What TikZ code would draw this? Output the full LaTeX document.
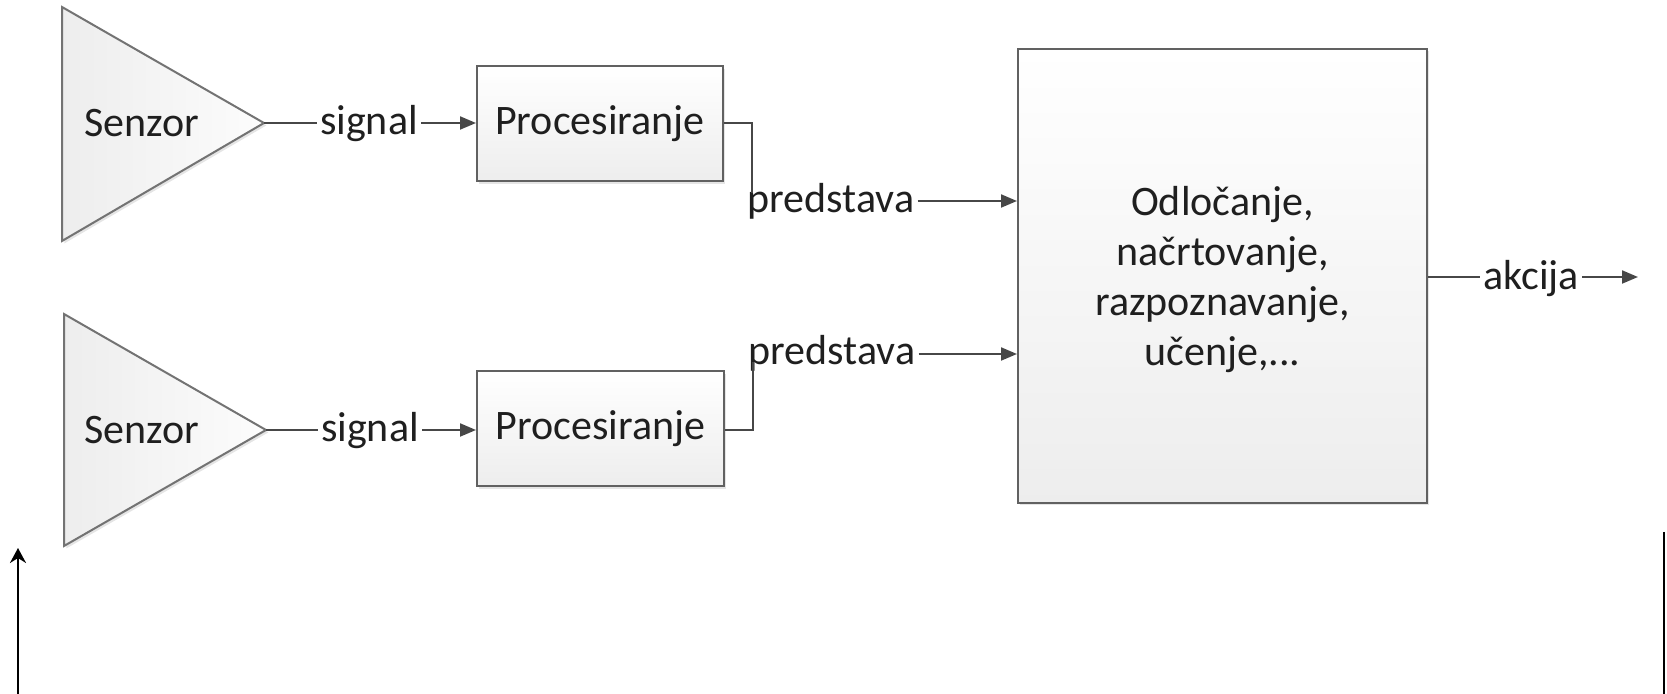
\documentclass[tikz,border=0pt]{standalone}
\usepackage{fontspec}
\setmainfont{Carlito}
\usetikzlibrary{arrows.meta,shadows}

\begin{document}
\begin{tikzpicture}[x=0.5pt,y=-0.5pt,
  font=\fontsize{21pt}{25pt}\selectfont,
  wire/.style={draw=black!72, line width=1pt},
  flow/.style={wire, -{Triangle[length=8pt,width=6.5pt]}},
  shade/.style={drop shadow={shadow xshift=1.2pt, shadow yshift=-1.2pt, opacity=0.1, fill=black}},
  blk/.style={draw=black!62, line width=1pt, top color=white, bottom color=black!7,
              inner sep=0pt, text=black!88, shade},
  sensor/.style={draw=black!55, line width=1pt, left color=black!7, right color=black!1, shade},
  lbl/.style={inner xsep=1.5pt, inner ysep=0pt, text=black!88, anchor=base},
  loop/.style={draw=black, line width=1.3pt}
]
\useasboundingbox (0,0) rectangle (1667,694);

% sensors
\coordinate (t1) at (264,123);
\coordinate (t2) at (266,430);
\path[sensor] (62,7) -- (t1) -- (62,241) -- cycle;
\path[sensor] (64,314) -- (t2) -- (64,546) -- cycle;
\node[text=black!88] (sen1) at (142,123) {Senzor};
\node[text=black!88] (sen2) at (142,430) {Senzor};

% processing blocks
\node[blk, minimum width=123pt, minimum height=57.5pt] (p1) at (600,124) {Procesiranje};
\node[blk, minimum width=123.5pt, minimum height=57.5pt] (p2) at (600.5,429) {Procesiranje};

% decision block and its text
\node[blk, minimum width=204.5pt, minimum height=227pt] (dec) at (1222.5,276) {};
\node[align=center, text=black!88, inner sep=0pt] (dectext) at ([yshift=-1.6pt]dec.center)
  {Odločanje,\\načrtovanje,\\razpoznavanje,\\učenje,...};

% labels on connectors (placed on their baselines)
\node[lbl] (sg1) at (369,135) {signal};
\node[lbl] (sg2) at (370,442) {signal};
\node[lbl] (pr1) at (831,213) {predstava};
\node[lbl] (pr2) at (832,365) {predstava};
\node[lbl] (ak) at (1531,290) {akcija};

% bend points and free end
\coordinate (k1) at (752,123);
\coordinate (k2) at (753,430);
\coordinate (out) at (1638,277);

% sensor -> processing
\draw[wire] (t1) -- (sg1.west |- t1);
\draw[flow] (sg1.east |- t1) -- (p1.west |- t1);
\draw[wire] (t2) -- (sg2.west |- t2);
\draw[flow] (sg2.east |- t2) -- (p2.west |- t2);

% processing -> decision
\draw[wire] (p1.east |- k1) -- (k1) -- ([yshift=-5pt]k1 |- pr1.north);
\draw[flow] (pr1.east |- 0,201) -- (dec.west |- 0,201);
\draw[wire] (p2.east |- k2) -- (k2) -- ([yshift=5pt]k2 |- pr2.south);
\draw[flow] (pr2.east |- 0,354) -- (dec.west |- 0,354);

% decision -> action
\draw[wire] (dec.east |- out) -- (ak.west |- out);
\draw[flow] (ak.east |- out) -- (out);

% feedback loop ends
\coordinate (fbl0) at (18,694);
\coordinate (fbl1) at (18,548);
\coordinate (fbr0) at (1664,532);
\coordinate (fbr1) at (1664,694);
\draw[loop, -{Stealth[length=7.5pt,width=8pt,inset=2.5pt]}] (fbl0) -- (fbl1);
\draw[loop] (fbr0) -- (fbr1);
\end{tikzpicture}
\end{document}
